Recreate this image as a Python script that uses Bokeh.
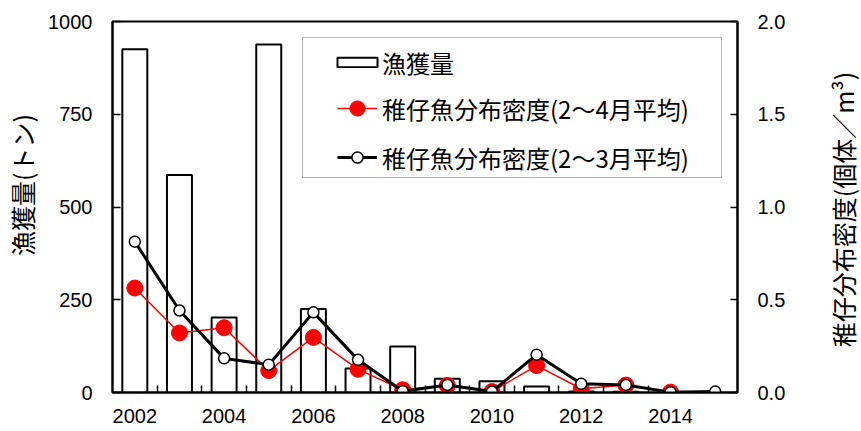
import math
from bokeh.plotting import figure
from bokeh.layouts import row
from bokeh.models import (ColumnDataSource, Range1d, LinearAxis, FixedTicker,
                          Legend, LegendItem, BoxAnnotation, Label)
from bokeh.embed import file_html
from bokeh.resources import INLINE

nan = float("nan")

# ---- data ----
years = [2002, 2003, 2004, 2005, 2006, 2007, 2008, 2009, 2010, 2011, 2012, 2013, 2014, 2015]
catch_t = [925, 586, 202, 938, 225, 65, 124, 37, 30, 16, 3, 2, 1, nan]
density_feb_apr = [0.563, 0.321, 0.349, 0.118, 0.297, 0.125, 0.015, 0.038, 0.005, 0.145, 0.020, 0.040, 0.002, nan]
density_feb_mar = [0.813, 0.442, 0.184, 0.150, 0.432, 0.176, 0.007, 0.041, 0.005, 0.204, 0.047, 0.041, 0.002, 0.005]
x_tick_years = [2002, 2004, 2006, 2008, 2010, 2012, 2014]
x_tick_labels = ["2002", "2004", "2006", "2008", "2010", "2012", "2014"]
left_ticks = [0, 250, 500, 750, 1000]
left_tick_labels = ["0", "250", "500", "750", "1000"]
right_ticks = [0.0, 0.5, 1.0, 1.5, 2.0]
right_tick_labels = ["0.0", "0.5", "1.0", "1.5", "2.0"]

label_catch = "漁獲量"
label_d24 = "稚仔魚分布密度(2～4月平均)"
label_d23 = "稚仔魚分布密度(2～3月平均)"
left_axis_label = "漁獲量(トン)"
right_axis_label = "稚仔分布密度(個体／m³)"

src = ColumnDataSource(dict(year=years, catch=catch_t, d24=density_feb_apr, d23=density_feb_mar))

TICK_FONT = "Liberation Sans"
CJK_FONT = "Noto Sans CJK JP"
H = 431
W_LEFT, W_MAIN, W_RIGHT = 45, 755, 61

# ---- main chart ----
p = figure(width=W_MAIN, height=H, output_backend="svg", toolbar_location=None,
           x_range=Range1d(years[0] - 0.5, years[-1] + 0.5),
           y_range=Range1d(left_ticks[0], left_ticks[-1]),
           min_border_left=67, min_border_right=63, min_border_top=21, min_border_bottom=39)
p.extra_y_ranges = {"dens": Range1d(right_ticks[0], right_ticks[-1])}

p.xgrid.grid_line_color = None
p.ygrid.grid_line_color = None
p.outline_line_color = "black"
p.outline_line_width = 2
p.background_fill_color = "white"
p.border_fill_color = "white"

# bottom axis
xa = p.xaxis[0]
xa.ticker = FixedTicker(ticks=x_tick_years, minor_ticks=[y + 0.5 for y in years[:-2]])
xa.major_label_overrides = dict(zip(x_tick_years, x_tick_labels))
xa.major_tick_in = 0
xa.major_tick_out = 0
xa.minor_tick_in = 7
xa.minor_tick_out = 0
xa.minor_tick_line_color = "black"
xa.minor_tick_line_width = 1.5
xa.axis_line_color = "black"
xa.axis_line_width = 2
xa.major_label_text_font = TICK_FONT
xa.major_label_text_font_size = "20px"
xa.major_label_text_color = "black"
xa.major_label_standoff = 16

# left axis
ya = p.yaxis[0]
ya.ticker = FixedTicker(ticks=left_ticks)
ya.major_label_overrides = dict(zip(left_ticks, left_tick_labels))
ya.major_tick_in = 8
ya.major_tick_out = 0
ya.major_tick_line_color = "black"
ya.major_tick_line_width = 1.5
ya.minor_tick_line_color = None
ya.axis_line_color = "black"
ya.axis_line_width = 2
ya.major_label_text_font = TICK_FONT
ya.major_label_text_font_size = "20px"
ya.major_label_text_color = "black"
ya.major_label_standoff = 20

# right axis
ra = LinearAxis(y_range_name="dens", ticker=FixedTicker(ticks=right_ticks))
ra.major_label_overrides = dict(zip(right_ticks, right_tick_labels))
ra.major_tick_in = 7
ra.major_tick_out = 0
ra.major_tick_line_color = "black"
ra.major_tick_line_width = 1.5
ra.minor_tick_line_color = None
ra.axis_line_color = "black"
ra.axis_line_width = 2
ra.major_label_text_font = TICK_FONT
ra.major_label_text_font_size = "20px"
ra.major_label_text_color = "black"
ra.major_label_standoff = 20
p.add_layout(ra, "right")

# glyphs
bars = p.vbar(x="year", top="catch", width=0.56, bottom=0, source=src,
              fill_color="white", line_color="black", line_width=2)
red_line = p.line(x="year", y="d24", source=src, y_range_name="dens",
                  line_color="red", line_width=1.5)
red_pts = p.scatter(x="year", y="d24", source=src, y_range_name="dens",
                    size=16, fill_color="red", line_color="red")
blk_line = p.line(x="year", y="d23", source=src, y_range_name="dens",
                  line_color="black", line_width=3)
blk_pts = p.scatter(x="year", y="d23", source=src, y_range_name="dens",
                    size=11, fill_color="white", line_color="black", line_width=1.5)

# legend frame
legend_box = BoxAnnotation(left=2005.756, right=2015.142, bottom=579.5, top=956.9,
                           fill_color="white", fill_alpha=1.0,
                           line_color="black", line_width=1)
p.add_layout(legend_box)


def make_legend(item, loc, gw, gh, lh, standoff):
    return Legend(items=[item], location=loc, glyph_width=gw, glyph_height=gh,
                  label_height=lh, label_standoff=standoff, padding=0, spacing=0, margin=0,
                  border_line_color=None, background_fill_alpha=0.0,
                  label_text_font=CJK_FONT, label_text_font_size="24px",
                  label_text_color="black")


p.add_layout(make_legend(LegendItem(label=label_catch, renderers=[bars]), (220, 312), 50, 12, 36, 0))
p.add_layout(make_legend(LegendItem(label=label_d24, renderers=[red_line, red_pts]), (225, 265), 40, 38, 38, 5))
p.add_layout(make_legend(LegendItem(label=label_d23, renderers=[blk_line, blk_pts]), (225, 217), 40, 28, 36, 5))


# ---- side strips carrying the rotated axis titles ----
def title_strip(width, text, cx, cy, size):
    f = figure(width=width, height=H, output_backend="svg", toolbar_location=None,
               x_range=Range1d(0, width), y_range=Range1d(0, H),
               x_axis_location=None, y_axis_location=None,
               min_border_left=0, min_border_right=0, min_border_top=0, min_border_bottom=0)
    f.grid.visible = False
    f.outline_line_color = None
    f.background_fill_color = "white"
    f.border_fill_color = "white"
    f.add_layout(Label(x=cx, y=H - cy, text=text, angle=math.pi / 2,
                       text_align="center", text_baseline="middle",
                       text_font=CJK_FONT, text_font_size=size, text_color="black"))
    return f


left_strip = title_strip(W_LEFT, left_axis_label, 21, 190, "25px")
right_strip = title_strip(W_RIGHT, right_axis_label, 42.5, 218.5, "25px")

layout = row(left_strip, p, right_strip)
open("out.html", "w").write(file_html(layout, INLINE))
